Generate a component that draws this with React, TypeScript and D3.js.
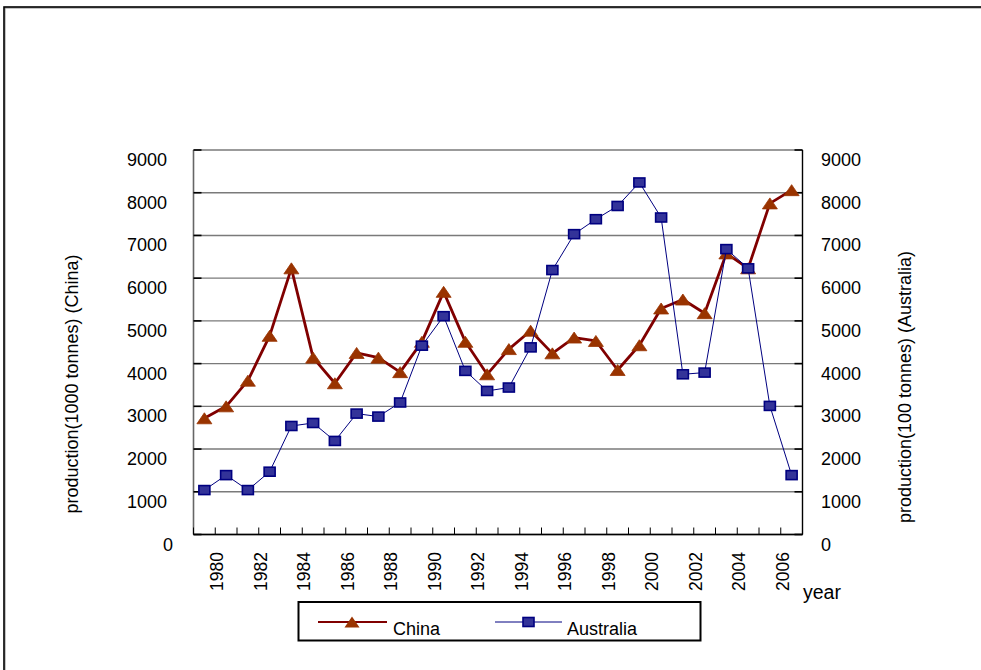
import React from "react";
import * as d3 from "d3";

// Annual production, 1980–2007
const years: number[] = [
  1980, 1981, 1982, 1983, 1984, 1985, 1986, 1987, 1988, 1989,
  1990, 1991, 1992, 1993, 1994, 1995, 1996, 1997, 1998, 1999,
  2000, 2001, 2002, 2003, 2004, 2005, 2006, 2007,
];

// China, in 1000 tonnes (left axis)
const china: number[] = [
  2720, 3000, 3600, 4650, 6230, 4140, 3540, 4250, 4140, 3800,
  4510, 5680, 4510, 3750, 4340, 4770, 4240, 4610, 4530, 3850,
  4430, 5290, 5500, 5180, 6580, 6230, 7750, 8060,
];

// Australia, in 100 tonnes (right axis)
const australia: number[] = [
  1040, 1390, 1040, 1470, 2540, 2610, 2190, 2830, 2760, 3090,
  4420, 5110, 3830, 3360, 3440, 4380, 6190, 7030, 7380, 7690,
  8240, 7420, 3750, 3790, 6680, 6230, 3010, 1390,
];

const yTicks: number[] = [0, 1000, 2000, 3000, 4000, 5000, 6000, 7000, 8000, 9000];
const xLabelYears: number[] = years.filter((y) => y % 2 === 0);

const FONT = "'Liberation Sans', Arial, Helvetica, sans-serif";

const W = 981;
const H = 670;
const plot = { left: 193.5, right: 802.5, top: 150, bottom: 534.5 };

export default function App() {
  const x = d3
    .scaleBand<number>()
    .domain(years)
    .range([plot.left, plot.right])
    .paddingInner(0)
    .paddingOuter(0);
  const yLeft = d3.scaleLinear().domain([0, 9000]).range([plot.bottom, plot.top]);
  const yRight = d3.scaleLinear().domain([0, 9000]).range([plot.bottom, plot.top]);

  const cx = (yr: number) => (x(yr) as number) + x.bandwidth() / 2;

  const chinaLine = d3
    .line<number>()
    .x((_, i) => cx(years[i]))
    .y((v) => yLeft(v))(china) as string;
  const ausLine = d3
    .line<number>()
    .x((_, i) => cx(years[i]))
    .y((v) => yRight(v))(australia) as string;

  const tri = (px: number, py: number, w = 15, h = 11) =>
    `M${px - w / 2},${py + h / 2}L${px + w / 2},${py + h / 2}L${px},${py - h / 2}Z`;

  const boundaries = d3.range(years.length + 1).map((i) => plot.left + i * x.bandwidth());

  return (
    <svg
      width={W}
      height={H}
      style={{ position: "absolute", left: 0, top: 0, background: "#fff" }}
      fontFamily={FONT}
    >
      <rect x={0} y={0} width={W} height={H} fill="#fff" />
      {/* outer chart frame */}
      <rect x={5} y={8} width={W + 20} height={H + 20} fill="none" stroke="#8a8a8a" strokeWidth={1} />
      <rect x={4} y={7} width={W + 20} height={H + 20} fill="none" stroke="#000" strokeWidth={1.6} />

      {/* gridlines */}
      {yTicks.map((t) => (
        <line
          key={"g" + t}
          x1={plot.left}
          x2={plot.right}
          y1={yLeft(t)}
          y2={yLeft(t)}
          stroke="#7a7a7a"
          strokeWidth={1.4}
        />
      ))}

      {/* axes */}
      <line x1={plot.left} x2={plot.left} y1={plot.top} y2={plot.bottom} stroke="#666" strokeWidth={1.6} />
      <line x1={plot.right} x2={plot.right} y1={plot.top} y2={plot.bottom} stroke="#000" strokeWidth={1.4} />
      <line x1={plot.left} x2={plot.right} y1={plot.bottom} y2={plot.bottom} stroke="#000" strokeWidth={1.6} />

      {/* y ticks */}
      {yTicks.map((t) => (
        <g key={"yt" + t}>
          <line x1={plot.left} x2={plot.left + 8} y1={yLeft(t)} y2={yLeft(t)} stroke="#000" strokeWidth={1.6} />
          <line x1={plot.right - 8} x2={plot.right} y1={yRight(t)} y2={yRight(t)} stroke="#000" strokeWidth={1.6} />
          <text x={t === 0 ? 173 : 167} y={yLeft(t) + 16} fontSize={18} textAnchor="end" fill="#000">
            {t}
          </text>
          <text x={821} y={yRight(t) + 16} fontSize={18} textAnchor="start" fill="#000">
            {t}
          </text>
        </g>
      ))}

      {/* x ticks */}
      {boundaries.map((bx, i) => (
        <line key={"xt" + i} x1={bx} x2={bx} y1={plot.bottom - 7} y2={plot.bottom} stroke="#000" strokeWidth={1} />
      ))}
      {xLabelYears.map((yr) => (
        <text
          key={"xl" + yr}
          transform={`translate(${cx(yr) + 13},552) rotate(-90)`}
          fontSize={17.5}
          textAnchor="end"
          dominantBaseline="central"
          fill="#000"
        >
          {yr}
        </text>
      ))}

      {/* axis titles */}
      <text
        transform={`translate(72,384) rotate(-90)`}
        fontSize={18}
        textAnchor="middle"
        dominantBaseline="central"
        fill="#000"
      >
        production(1000 tonnes) (China)
      </text>
      <text
        transform={`translate(905,387) rotate(-90)`}
        fontSize={18}
        textAnchor="middle"
        dominantBaseline="central"
        fill="#000"
      >
        production(100 tonnes) (Australia)
      </text>
      <text x={803} y={599} fontSize={19.5} fill="#000">
        year
      </text>

      {/* China series */}
      <path d={chinaLine} fill="none" stroke="#800000" strokeWidth={2.8} strokeLinejoin="round" />
      {china.map((v, i) => (
        <path key={"c" + i} d={tri(cx(years[i]), yLeft(v))} fill="#993300" stroke="#993300" strokeWidth={0.8} />
      ))}

      {/* Australia series */}
      <path d={ausLine} fill="none" stroke="#000080" strokeWidth={1} />
      {australia.map((v, i) => (
        <rect
          key={"a" + i}
          x={cx(years[i]) - 5.5}
          y={yRight(v) - 4.5}
          width={11}
          height={9}
          fill="#333399"
          stroke="#000080"
          strokeWidth={1.6}
        />
      ))}

      {/* legend */}
      <rect x={298.5} y={602} width={402} height={38.5} fill="#fff" stroke="#000" strokeWidth={2} />
      <line x1={318} x2={387} y1={622} y2={622} stroke="#800000" strokeWidth={2} />
      <path d={tri(352, 622)} fill="#993300" />
      <text x={393} y={635} fontSize={18} fill="#000">
        China
      </text>
      <line x1={495} x2={562} y1={622} y2={622} stroke="#000080" strokeWidth={1} />
      <rect x={523} y={617.5} width={11} height={9} fill="#333399" stroke="#000080" strokeWidth={1.6} />
      <text x={567} y={635} fontSize={18} fill="#000">
        Australia
      </text>
    </svg>
  );
}
